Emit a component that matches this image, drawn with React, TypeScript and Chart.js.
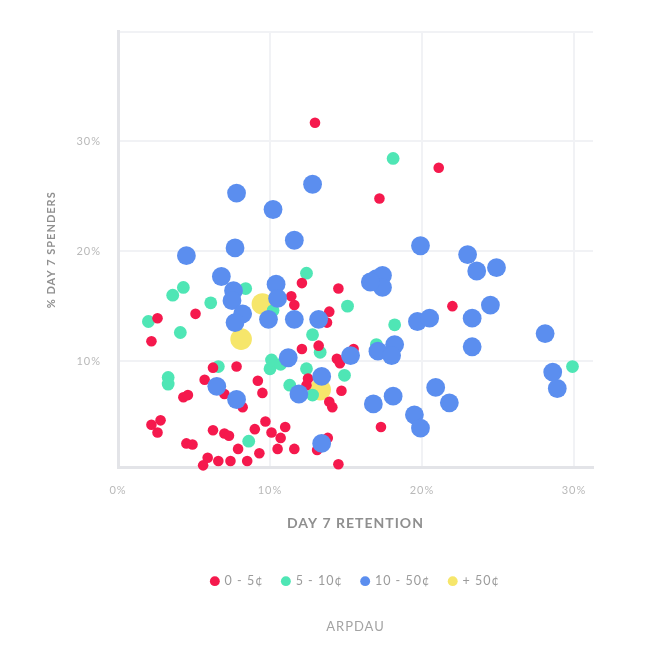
import React, { useEffect, useRef } from 'react';
import { Chart, registerables } from 'chart.js';

Chart.register(...registerables);

const seriesLabels = ['0 - 5¢', '5 - 10¢', '10 - 50¢', '+ 50¢'];
const seriesColors = ['#f5194d', '#4fe6b5', '#5b8eef', '#f6e66b'];
const seriesRadius = [5.3, 6.4, 9.4, 10.8];

const xTicks = [0, 10, 20, 30];
const yTicks = [10, 20, 30, 40];

const redX = [12.96, 21.1, 17.2, 12.1, 11.4, 11.6, 14.5, 13.9, 13.75, 13.2, 12.1, 15.5, 14.4, 14.6, 22.0, 2.6, 5.1, 2.2, 6.25, 7.8, 5.7, 7.0, 8.2, 9.2, 9.5, 4.3, 4.6, 2.2, 2.8, 2.6, 4.5, 4.9, 6.25, 7.0, 7.3, 9.0, 9.7, 10.1, 7.9, 9.3, 10.5, 5.9, 5.6, 6.6, 7.4, 8.5, 12.5, 12.4, 14.7, 13.9, 14.1, 17.3, 11.0, 10.7, 11.6, 13.8, 13.1, 14.5];
const redY = [31.7, 27.6, 24.8, 17.1, 15.9, 15.1, 16.6, 14.5, 13.5, 11.4, 11.1, 11.1, 10.2, 9.8, 15.0, 13.9, 14.3, 11.8, 9.4, 9.5, 8.3, 7.0, 5.8, 8.2, 7.1, 6.7, 6.9, 4.2, 4.6, 3.5, 2.5, 2.4, 3.7, 3.4, 3.2, 3.8, 4.5, 3.5, 2.0, 1.6, 2.0, 1.2, 0.5, 0.9, 0.9, 0.9, 8.4, 7.8, 7.3, 6.3, 5.8, 4.0, 4.0, 3.0, 2.0, 3.0, 1.9, 0.6];

const greenX = [18.1, 12.4, 4.3, 3.6, 8.4, 6.1, 15.1, 2.0, 4.1, 18.2, 12.8, 17.0, 3.3, 3.3, 6.6, 8.6, 10.0, 10.1, 10.7, 12.4, 14.9, 11.3, 12.8, 29.9, 10.2, 13.3];
const greenY = [28.45, 18.0, 16.7, 16.0, 16.6, 15.3, 15.0, 13.6, 12.6, 13.3, 12.4, 11.5, 8.5, 7.9, 9.5, 2.7, 9.3, 10.1, 9.7, 9.3, 8.7, 7.8, 6.9, 9.5, 14.6, 10.8];

const blueX = [12.8, 7.8, 10.2, 11.6, 7.7, 19.9, 4.5, 6.8, 7.6, 7.5, 10.4, 10.5, 8.2, 7.7, 9.9, 11.6, 13.2, 17.0, 17.4, 17.4, 16.6, 19.7, 20.5, 23.0, 23.6, 24.9, 24.5, 23.3, 28.1, 23.3, 28.6, 28.9, 20.9, 21.8, 19.5, 19.9, 16.8, 18.1, 17.1, 18.2, 18.0, 15.3, 11.2, 13.4, 11.9, 6.5, 7.8, 13.4];
const blueY = [26.1, 25.3, 23.8, 21.0, 20.3, 20.5, 19.6, 17.7, 16.4, 15.5, 17.0, 15.7, 14.3, 13.5, 13.8, 13.8, 13.8, 17.5, 17.8, 16.7, 17.2, 13.6, 13.9, 19.7, 18.2, 18.5, 15.1, 13.9, 12.5, 11.3, 9.0, 7.5, 7.6, 6.2, 5.1, 3.9, 6.1, 6.8, 10.9, 11.5, 10.5, 10.5, 10.3, 8.6, 7.0, 7.7, 6.5, 2.5];

const yellowX = [9.5, 8.1, 13.3];
const yellowY = [15.2, 12.0, 7.4];

const toPoints = (xs: number[], ys: number[]) => xs.map((x, i) => ({ x, y: ys[i] }));

const FONT = 'Lato, "Open Sans", sans-serif';

export default function App() {
  const ref = useRef<HTMLCanvasElement | null>(null);

  useEffect(() => {
    if (!ref.current) return;
    const spacing = {
      id: 'letterSpacing',
      beforeLayout(c: any) { c.ctx.letterSpacing = '1px'; },
      beforeDraw(c: any) { c.ctx.letterSpacing = '1px'; },
    };
    const seriesData = [
      toPoints(redX, redY),
      toPoints(greenX, greenY),
      toPoints(blueX, blueY),
      toPoints(yellowX, yellowY),
    ];
    const drawOrder = [1, 2, 0, 3];
    const chart = new Chart(ref.current, {
      type: 'scatter',
      data: {
        datasets: seriesData.map((d, i) => ({
          label: seriesLabels[i],
          data: d,
          backgroundColor: seriesColors[i],
          borderWidth: 0,
          pointRadius: seriesRadius[i],
          pointStyle: 'circle',
          order: drawOrder[i],
          clip: false as any,
        })),
      },
      options: {
        responsive: true,
        maintainAspectRatio: false,
        animation: false,
        events: [],
        layout: { padding: { top: 21, right: 45, left: 0, bottom: 0 } },
        scales: {
          x: {
            type: 'linear',
            min: 0,
            max: 31.25,
            afterBuildTicks: (s: any) => { s.ticks = xTicks.map((v) => ({ value: v })); },
            afterFit: (s: any) => { s.height = 88; },
            grid: { color: '#f1f2f5', lineWidth: 2, drawTicks: false },
            border: { color: '#e3e4e8', width: 3 },
            ticks: {
              padding: 16,
              color: '#b9b9b9',
              font: { family: FONT, size: 11 },
              callback: (v: any) => `${v}%`,
            },
            title: {
              display: true,
              text: 'DAY 7 RETENTION',
              color: '#8f8f8f',
              font: { family: FONT, size: 14, weight: 'bold' },
              padding: { top: 0, bottom: 24 },
            },
          },
          y: {
            type: 'linear',
            min: 0.27,
            max: 40,
            afterBuildTicks: (s: any) => { s.ticks = yTicks.map((v) => ({ value: v })); },
            afterFit: (s: any) => { s.width = 110; },
            grid: { color: '#f1f2f5', lineWidth: 2, drawTicks: false },
            border: { color: '#e3e4e8', width: 3 },
            ticks: {
              padding: 17,
              color: '#b9b9b9',
              font: { family: FONT, size: 11 },
              callback: (v: any) => (v === 40 ? '' : `${v}%`),
            },
            title: {
              display: true,
              text: '% DAY 7 SPENDERS',
              color: '#8f8f8f',
              font: { family: FONT, size: 11, weight: 'bold' },
              padding: { top: 37, bottom: 0 },
            },
          },
        },
        plugins: {
          legend: {
            position: 'bottom',
            fullSize: false,
            labels: {
              usePointStyle: true,
              pointStyle: 'circle',
              boxWidth: 7,
              boxHeight: 7,
              padding: 19,
              color: '#9b9b9b',
              font: { family: FONT, size: 12.5 },
              sort: (a: any, b: any) => a.datasetIndex - b.datasetIndex,
            },
          },
          title: {
            display: true,
            position: 'bottom',
            fullSize: false,
            text: 'ARPDAU',
            color: '#a3a3a3',
            font: { family: FONT, size: 13, weight: 'normal' },
            padding: { top: 22, bottom: 9 },
          },
          tooltip: { enabled: false },
        },
      } as any,
      plugins: [spacing],
    });
    return () => chart.destroy();
  }, []);

  return (
    <div style={{ width: 630, height: 636, position: 'relative' }}>
      <canvas ref={ref} />
    </div>
  );
}
